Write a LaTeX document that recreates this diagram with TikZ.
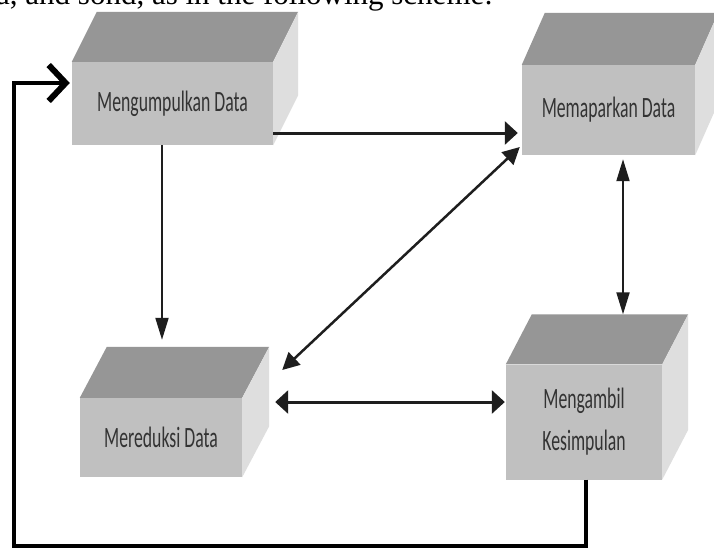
\documentclass[tikz,border=0pt]{standalone}
\usepackage{fontspec}
\setmainfont{Liberation Serif}
\newfontfamily\boxfont[FakeStretch=0.6]{Carlito}
\usetikzlibrary{arrows.meta}
\definecolor{topc}{HTML}{969696}
\definecolor{frontc}{HTML}{C0C0C0}
\definecolor{sidec}{HTML}{DEDEDE}
\definecolor{txtc}{HTML}{333333}
\definecolor{linec}{HTML}{1E1E1E}
\newcommand\cubefaces[3]{%
  \fill[topc] (#1.north west) -- ++(#2,#3) -- ([shift={(#2,#3)}]#1.north east) -- (#1.north east) -- cycle;
  \fill[sidec] (#1.north east) -- ++(#2,#3) -- ([shift={(#2,#3)}]#1.south east) -- (#1.south east) -- cycle;
}
\begin{document}
\begin{tikzpicture}[x=1pt,y=-1pt,
  box/.style={fill=frontc, inner sep=0pt, text=txtc,
    font={\boxfont\fontsize{29.5pt}{42pt}\selectfont}, align=center},
  conn/.style={draw=linec, line width=#1},
  hboth/.style={{Triangle[length=13pt,width=23pt]}-{Triangle[length=13pt,width=23pt]}},
  hend/.style={-{Triangle[length=13pt,width=23pt]}},
  vend/.style={-{Triangle[length=22pt,width=13pt]}},
  vboth/.style={{Triangle[length=22pt,width=13pt]}-{Triangle[length=22pt,width=13pt]}},
  dboth/.style={{Triangle[length=17pt,width=17pt]}-{Triangle[length=17pt,width=17pt]}},
  fback/.style={draw=black, line width=4.5pt, -{Straight Barb[length=17pt,width=36pt,line width=6pt]}}
]
\useasboundingbox (0,0) rectangle (714,549);
\clip (0,0) rectangle (714,549);
\fill[white] (0,0) rectangle (714,549);

% cut-off text line at the top
\node[anchor=base west, inner sep=0pt, font=\fontsize{31pt}{36pt}\selectfont] (head) at (-4,4) {a, and sond, as in the following scheme:};

% boxes
\node[box, minimum width=201pt, minimum height=83pt] (b1) at (172.5,103.5) {Mengumpulkan Data};
\cubefaces{b1}{25}{-50}
\node[box, minimum width=173pt, minimum height=90pt] (b2) at (608.5,110) {Memaparkan Data};
\cubefaces{b2}{23}{-52}
\node[box, minimum width=162pt, minimum height=79pt] (b3) at (161,437.5) {Mereduksi Data};
\cubefaces{b3}{27}{-51}
\node[box, minimum width=156pt, minimum height=115pt] (b4) at (584,422) {Mengambil\\Kesimpulan};
\cubefaces{b4}{26}{-50}

% connectors
\draw[conn=3pt, hend] ([yshift=-29.5pt]b1.east) -- ([xshift=-4pt,yshift=-23pt]b2.west);
\draw[conn=2pt, vend] ([xshift=-10.5pt]b1.south) -- ([xshift=1pt,yshift=58pt]b3.north);
\draw[conn=2.5pt, dboth] ([xshift=-2pt,yshift=-37pt]b2.west) -- ([xshift=40pt,yshift=67.5pt]b3.east);
\draw[conn=3pt, hboth] ([xshift=33pt,yshift=35.5pt]b3.east) -- ([xshift=-1pt,yshift=20pt]b4.west);
\draw[conn=2pt, vboth] ([xshift=14.5pt,yshift=-4pt]b2.south) -- ([xshift=39pt,yshift=50pt]b4.north);

% feedback loop
\coordinate (fbl) at (14,546);
\draw[fback] ([xshift=2pt]b4.south) |- (fbl) |- ([xshift=-2pt,yshift=20.5pt]b1.west);
\end{tikzpicture}
\end{document}
